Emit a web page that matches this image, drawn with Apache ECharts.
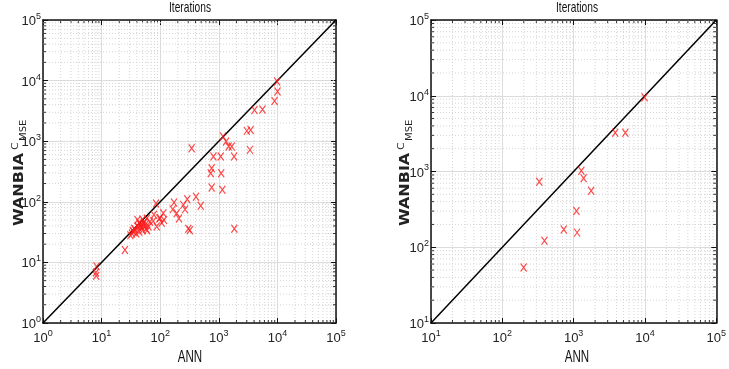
<!DOCTYPE html>
<html>
<head>
<meta charset="utf-8">
<script src="https://cdn.jsdelivr.net/npm/echarts@6/dist/echarts.min.js"></script>
<style>
  html, body { margin: 0; padding: 0; background: #fff; }
  #chart { width: 729px; height: 369px; }
</style>
</head>
<body>
<div id="chart"></div>
<script>
// ANN vs WANBIA-C(MSE) iterations
var leftAnn = [8.2, 8.0, 8.1, 25, 85, 172, 163, 191, 209, 248, 265, 290, 408, 491, 302, 320, 1841,
  113, 116, 106, 97, 87, 76, 67, 59, 63, 55, 50, 48, 44, 41, 37, 35, 33, 39, 44, 50, 41, 46, 52, 57, 31, 34, 36, 42, 47, 53, 60,
  78, 99, 728, 756, 809, 756, 1079, 1100, 1150, 1180, 1331, 1470, 1660, 1824, 344,
  3005, 3490, 3400, 4064, 5566, 8930, 10050, 9900];
var leftWanbia = [8.6, 6.8, 6.0, 16, 94, 97, 75, 65, 53, 89, 75, 110, 121, 86, 36, 34, 36,
  65, 50, 45, 53, 39, 48, 47, 53, 39, 41, 51, 38, 45, 40, 35, 32, 30, 30, 32, 34, 50, 41, 44, 36, 28, 33, 36, 38, 42, 46, 34,
  61, 54, 297, 359, 559, 172, 559, 297, 158, 1194, 988, 817, 817, 559, 767,
  1480, 1530, 719, 3284, 3330, 4620, 6590, 9630];

var rightAnn = [199, 330, 390, 727, 1096, 1117, 1283, 1380, 1760, 3830, 5310, 9890];
var rightWanbia = [54, 734, 122, 172, 301, 156, 1025, 813, 558, 3253, 3253, 9530];

var leftRange = [1, 1e5];
var rightRange = [10, 1e5];

var sans = "'Liberation Sans', Arial, sans-serif";

function pairs(xs, ys) {
  return xs.map(function (x, i) { return [x, ys[i]]; });
}

// 2..9 x 10^k inside a range, for the dotted minor grid
function minorValues(range) {
  var out = [];
  for (var p = range[0]; p < range[1]; p *= 10) {
    for (var m = 2; m <= 9; m++) out.push(p * m);
  }
  return out;
}

function tickLabel(v) {
  return '{b|10}{s|' + Math.round(Math.log10(v)) + '}';
}

var labelRich = {
  b: { fontSize: 13, fontFamily: sans, color: '#222', verticalAlign: 'bottom' },
  s: { fontSize: 9, fontFamily: sans, color: '#222', verticalAlign: 'bottom', padding: [0, 0, 7, 0] }
};

function minorX(params, api) {
  var cs = params.coordSys;
  var x = api.coord([api.value(0), api.value(1)])[0];
  var b = cs.y + cs.height;
  return {
    type: 'group',
    children: [
      { type: 'line', shape: { x1: x, y1: cs.y, x2: x, y2: b }, style: { stroke: '#d4d4d4', lineWidth: 1, lineDash: [1, 2] } },
      { type: 'line', shape: { x1: x, y1: b, x2: x, y2: b - 3 }, style: { stroke: '#333', lineWidth: 1 } },
      { type: 'line', shape: { x1: x, y1: cs.y, x2: x, y2: cs.y + 3 }, style: { stroke: '#333', lineWidth: 1 } }
    ]
  };
}

function minorY(params, api) {
  var cs = params.coordSys;
  var y = api.coord([api.value(0), api.value(1)])[1];
  var r = cs.x + cs.width;
  return {
    type: 'group',
    children: [
      { type: 'line', shape: { x1: cs.x, y1: y, x2: r, y2: y }, style: { stroke: '#d4d4d4', lineWidth: 1, lineDash: [1, 2] } },
      { type: 'line', shape: { x1: cs.x, y1: y, x2: cs.x + 3, y2: y }, style: { stroke: '#333', lineWidth: 1 } },
      { type: 'line', shape: { x1: r, y1: y, x2: r - 3, y2: y }, style: { stroke: '#333', lineWidth: 1 } }
    ]
  };
}

function xAxes(gi, range) {
  return [
    {
      type: 'log', logBase: 10, gridIndex: gi, min: range[0], max: range[1], position: 'bottom',
      axisLine: { lineStyle: { color: '#111', width: 1.5 } },
      axisTick: { inside: true, length: 5, lineStyle: { color: '#111' } },
      axisLabel: { formatter: tickLabel, rich: labelRich, margin: 6 },
      splitLine: { show: true, lineStyle: { color: '#dcdcdc', width: 1 } }
    },
    {
      type: 'log', logBase: 10, gridIndex: gi, min: range[0], max: range[1], position: 'top',
      axisLine: { lineStyle: { color: '#111', width: 1.5 } },
      axisTick: { inside: true, length: 5, lineStyle: { color: '#111' } },
      axisLabel: { show: false },
      splitLine: { show: false }
    }
  ];
}

function yAxes(gi, range) {
  return [
    {
      type: 'log', logBase: 10, gridIndex: gi, min: range[0], max: range[1], position: 'left',
      axisLine: { lineStyle: { color: '#111', width: 1.5 } },
      axisTick: { inside: true, length: 5, lineStyle: { color: '#111' } },
      axisLabel: { formatter: tickLabel, rich: labelRich, margin: 2 },
      splitLine: { show: true, lineStyle: { color: '#dcdcdc', width: 1 } }
    },
    {
      type: 'log', logBase: 10, gridIndex: gi, min: range[0], max: range[1], position: 'right',
      axisLine: { lineStyle: { color: '#111', width: 1.5 } },
      axisTick: { inside: true, length: 5, lineStyle: { color: '#111' } },
      axisLabel: { show: false },
      splitLine: { show: false }
    }
  ];
}

// condensed captions: the source figure is squeezed sideways
function caption(text, x, y, size) {
  return {
    type: 'text', x: x, y: y, scaleX: 0.68,
    style: { text: text, font: size + 'px ' + sans, fill: '#111', textAlign: 'center', textVerticalAlign: 'bottom' }
  };
}

function yTitle(x) {
  return {
    type: 'group', x: x, y: 226, rotation: Math.PI / 2, scaleY: 0.85,
    children: [
      { type: 'text', x: 0, y: 0, style: { text: 'WANBIA', font: 'bold 16px "DejaVu Sans"', fill: '#222', textVerticalAlign: 'bottom' } },
      { type: 'text', x: 76, y: -7, style: { text: 'C', font: '11px "DejaVu Sans"', fill: '#222', textVerticalAlign: 'bottom' } },
      { type: 'text', x: 85, y: 2, style: { text: 'MSE', font: '10px "DejaVu Sans"', fill: '#222', textVerticalAlign: 'bottom' } }
    ]
  };
}

function panelSeries(xi, yi, range, ann, wanbia) {
  var mark = {
    type: 'scatter', xAxisIndex: xi, yAxisIndex: yi, z: 5,
    symbol: 'path://M0,0L10,13M10,0L0,13', symbolSize: [6, 8],
    itemStyle: { color: 'rgba(0,0,0,0)', borderColor: '#ff1a1a', borderWidth: 1.2 },
    data: pairs(ann, wanbia)
  };
  var diag = {
    type: 'line', xAxisIndex: xi, yAxisIndex: yi, z: 4, symbol: 'none',
    lineStyle: { color: '#000', width: 1.5 },
    data: [[range[0], range[0]], [range[1], range[1]]]
  };
  var mx = {
    type: 'custom', xAxisIndex: xi, yAxisIndex: yi, z: 1, silent: true, renderItem: minorX,
    data: minorValues(range).map(function (v) { return [v, range[0]]; })
  };
  var my = {
    type: 'custom', xAxisIndex: xi, yAxisIndex: yi, z: 1, silent: true, renderItem: minorY,
    data: minorValues(range).map(function (v) { return [range[0], v]; })
  };
  return [mx, my, diag, mark];
}

var chartDom = document.getElementById('chart');
var myChart = echarts.init(chartDom);
var option;

option = {
  animation: false,
  backgroundColor: '#fff',
  grid: [
    { left: 43, top: 20, width: 293, height: 303 },
    { left: 431, top: 20, width: 292, height: 303 }
  ],
  xAxis: xAxes(0, leftRange).concat(xAxes(1, rightRange)),
  yAxis: yAxes(0, leftRange).concat(yAxes(1, rightRange)),
  graphic: [
    caption('Iterations', 190, 15, 15), caption('Iterations', 577, 15, 15),
    caption('ANN', 190, 366, 17), caption('ANN', 577, 366, 17),
    yTitle(26), yTitle(412)
  ],
  series: panelSeries(0, 0, leftRange, leftAnn, leftWanbia)
    .concat(panelSeries(2, 2, rightRange, rightAnn, rightWanbia))
};

option && myChart.setOption(option);
</script>
</body>
</html>
